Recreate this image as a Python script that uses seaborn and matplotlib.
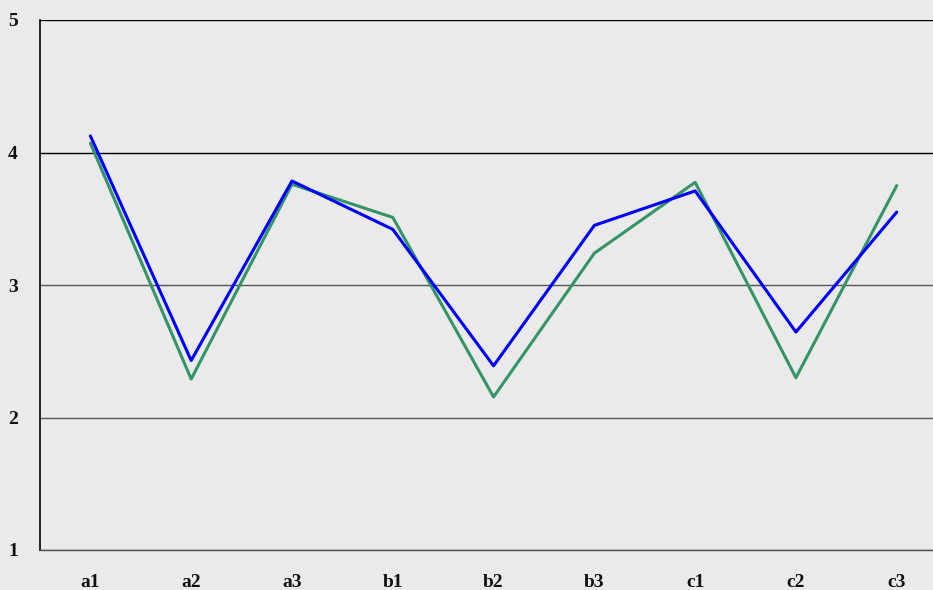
import matplotlib
matplotlib.use("Agg")
import matplotlib.pyplot as plt
import seaborn as sns
import pandas as pd

# Data
categories = ['a1', 'a2', 'a3', 'b1', 'b2', 'b3', 'c1', 'c2', 'c3']
green_vals = [4.07, 2.29, 3.76, 3.51, 2.155, 3.24, 3.775, 2.30, 3.75]
blue_vals = [4.125, 2.43, 3.785, 3.42, 2.39, 3.45, 3.71, 2.645, 3.55]
y_ticks = [1, 2, 3, 4, 5]

df = pd.DataFrame({
    'cat': categories * 2,
    'value': green_vals + blue_vals,
    'series': ['green'] * len(categories) + ['blue'] * len(categories),
})

sns.set_theme(style='white')
plt.rcParams['font.family'] = ['Liberation Serif', 'DejaVu Serif']

fig = plt.figure(figsize=(9.33, 5.9), dpi=100)
fig.patch.set_facecolor('#eaeaea')
ax = fig.add_axes([40 / 933, 40 / 590, 893 / 933, 530 / 590])
ax.set_facecolor('#eaeaea')

sns.lineplot(data=df, x='cat', y='value', hue='series',
             palette={'green': '#339466', 'blue': '#0000ff'},
             linewidth=2.2, legend=False, ax=ax, sort=False)

ax.set_xlim(-0.5, 8.36)
ax.set_ylim(1, 5)
ax.set_yticks(y_ticks)
ax.set_yticklabels([str(t) for t in y_ticks])
ax.set_xlabel('')
ax.set_ylabel('')

ax.grid(axis='y', color='black', linewidth=1)
ax.grid(axis='x', visible=False)
for line, t in zip(ax.get_ygridlines(), y_ticks):
    line.set_color('black' if t >= 4 else '#555555')
ax.set_axisbelow(True)

for side in ['top', 'right']:
    ax.spines[side].set_visible(False)
ax.spines['left'].set_color('black')
ax.spines['left'].set_linewidth(1.2)
ax.spines['bottom'].set_color('#555555')
ax.spines['bottom'].set_linewidth(1)

ax.tick_params(axis='y', length=0, pad=16, labelsize=14)
ax.tick_params(axis='x', length=0, pad=17, labelsize=14)
for lbl in ax.get_xticklabels() + ax.get_yticklabels():
    lbl.set_fontweight('bold')
    lbl.set_color('#111111')

fig.savefig('out.png', dpi=100, facecolor=fig.get_facecolor())
